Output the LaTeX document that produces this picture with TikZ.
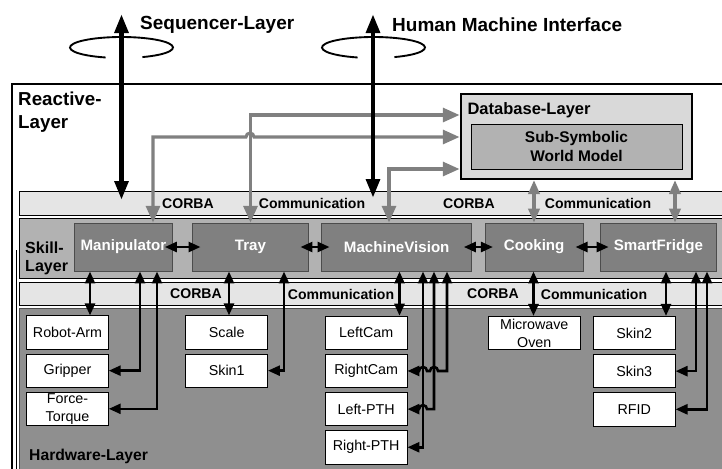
\documentclass[tikz,border=0pt]{standalone}
\usepackage{fontspec}
\setmainfont{Liberation Sans}
\usepackage{tikz}
\usetikzlibrary{arrows.meta,positioning,calc}
\usepackage{xcolor}
\definecolor{dbgray}{gray}{0.85}
\definecolor{worldgray}{gray}{0.70}
\definecolor{corbagray}{gray}{0.90}
\definecolor{skillband}{gray}{0.70}
\definecolor{skillgray}{gray}{0.50}
\definecolor{hwgray}{gray}{0.56}
\definecolor{linkgray}{gray}{0.50}
\tikzset{
    layer/.style={draw=black, line width=0.7pt},
    band/.style={layer, fill=corbagray},
    bandtext/.style={inner sep=0pt, font=\bfseries\fontsize{12}{14}\selectfont},
    layerlabel/.style={anchor=west, align=left, inner sep=0pt},
    toptext/.style={anchor=west, inner sep=0pt, font=\bfseries\fontsize{16.2}{19}\selectfont},
    skillbox/.style={draw=black!70, fill=skillgray, line width=0.8pt, minimum height=1.44cm, inner sep=0pt, text=white, font=\bfseries\fontsize{12.9}{15}\selectfont},
    hwbox/.style={draw=black, fill=white, line width=0.7pt, minimum width=2.45cm, minimum height=1.0cm, inner sep=0pt, align=center, font=\fontsize{12.2}{15.5}\selectfont},
    hwlink/.style={line width=2.2pt, black, {Triangle[length=0.36cm,width=0.3cm]}-{Triangle[length=0.36cm,width=0.3cm]}},
    glink/.style={line width=2.6pt, linkgray, {Triangle[length=0.5cm,width=0.42cm]}-{Triangle[length=0.5cm,width=0.42cm]}},
    dblink/.style={line width=2.6pt, linkgray, {Triangle[length=0.42cm,width=0.34cm]}-{Triangle[length=0.42cm,width=0.34cm]}},
    toplink/.style={line width=4pt, black, {Triangle[length=0.57cm,width=0.4cm]}-{Triangle[length=0.57cm,width=0.4cm]}},
    turn/.style={line width=1.6pt, black},
}

\begin{document}
\begin{tikzpicture}[x=0.03cm, y=-0.03cm]
    \clip (0,0) rectangle (722,468);
    % Reactive layer frame
    \draw[line width=1.7pt] (12,480) -- (12,84) -- (740,84);
    \draw[line width=0.7pt] (16.5,250) -- (16.5,480);
    \node[layerlabel, font=\bfseries\fontsize{16}{19.5}\selectfont] (reactive) at (18,112) {Reactive-\\Layer};
    % Layers
    \draw[band] (19,191.7) rectangle (740,215);
    \draw[layer, fill=skillband] (19,218.5) rectangle (740,278);
    \draw[band] (19,282.7) rectangle (740,305);
    \draw[layer, draw=black!70, fill=hwgray] (19,308) rectangle (740,480);
    \node[layerlabel, font=\bfseries\fontsize{13.7}{15.5}\selectfont] (skill) at (25,258) {Skill-\\Layer};
    \node[layerlabel, font=\bfseries\fontsize{13.4}{16}\selectfont] (hardware) at (29,456) {Hardware-Layer};
    % CORBA bands
    \node[bandtext] (corbaa) at (188,203.3) {CORBA};
    \node[bandtext] (comma) at (312,203.3) {Communication};
    \node[bandtext] (corbab) at (469,203.3) {CORBA};
    \node[bandtext] (commb) at (598,203.3) {Communication};
    \node[bandtext] (corbac) at (196,294) {CORBA};
    \node[bandtext] (commc) at (341,294) {Communication};
    \node[bandtext] (corbad) at (493,294) {CORBA};
    \node[bandtext] (commd) at (594,294) {Communication};
    % Database layer
    \node[draw=black, line width=2pt, fill=dbgray, minimum width=6.94cm, minimum height=2.54cm] (db) at (576.35,136.65) {};
    \node[layerlabel, font=\bfseries\fontsize{14.1}{16}\selectfont] (dbtitle) at (467.3,110) {Database-Layer};
    \node[draw=black, line width=0.8pt, fill=worldgray, minimum width=6.33cm, minimum height=1.35cm, align=center, font=\bfseries\fontsize{13.2}{16.5}\selectfont] (world) at (576.5,146.5) {Sub-Symbolic\\World Model};
    % Skills
    \node[skillbox, minimum width=2.96cm] (manip) at (123.4,247) {Manipulator};
    \node[skillbox, minimum width=3.47cm] (tray) at (250.5,247) {Tray};
    \node[skillbox, minimum width=4.5cm] (vision) at (396.7,247) {MachineVision};
    \node[skillbox, minimum width=2.95cm] (cooking) at (534.2,247) {Cooking};
    \node[skillbox, minimum width=3.46cm] (fridge) at (658.4,247) {SmartFridge};
    % Hardware
    \node[hwbox] (robotarm) at (67.5,332.5) {Robot-Arm};
    \node[hwbox, below=0.12cm of robotarm] (gripper) {Gripper};
    \node[hwbox, below=0.12cm of gripper] (forcetorque) {Force-\\Torque};
    \node[hwbox] (scale) at (226.7,332.5) {Scale};
    \node[hwbox, below=0.12cm of scale] (skinone) {Skin1};
    \node[hwbox] (leftcam) at (366.2,332.8) {LeftCam};
    \node[hwbox, below=0.12cm of leftcam] (rightcam) {RightCam};
    \node[hwbox, below=0.12cm of rightcam] (leftpth) {Left-PTH};
    \node[hwbox, below=0.12cm of leftpth] (rightpth) {Right-PTH};
    \node[hwbox, minimum width=2.74cm] (oven) at (534.3,333) {Microwave\\Oven};
    \node[hwbox] (skintwo) at (634.3,333) {Skin2};
    \node[hwbox, below=0.12cm of skintwo] (skinthree) {Skin3};
    \node[hwbox, below=0.12cm of skinthree] (rfid) {RFID};
    % Skill to skill
    \foreach \a/\b in {manip/tray, tray/vision, vision/cooking, cooking/fridge}
        \draw[hwlink, shorten <=-0.25cm, shorten >=-0.25cm] (\a.east) -- (\b.west);
    % Skill to hardware
    \draw[hwlink] (manip.south -| 90,0) -- (robotarm.north -| 90,0);
    \draw[hwlink] (manip.south -| 140,0) |- (gripper.east);
    \draw[hwlink] (manip.south -| 157,0) |- (forcetorque.east);
    \draw[hwlink] (tray.south -| 229,0) -- (scale.north -| 229,0);
    \draw[hwlink] (tray.south -| 284,0) |- (skinone.east);
    \draw[hwlink] (vision.south -| 399.5,0) -- (leftcam.north -| 399.5,0);
    \draw[hwlink] (vision.south -| 447,0) -- (rightcam.east -| 447,0) -- (rightcam.east -| 438,0)
        arc[start angle=0, end angle=180, radius=0.12cm] -- (rightcam.east -| 427,0)
        arc[start angle=0, end angle=180, radius=0.12cm] -- (rightcam.east);
    \draw[hwlink] (vision.south -| 434,0) -- (leftpth.east -| 434,0) -- (leftpth.east -| 427,0)
        arc[start angle=0, end angle=180, radius=0.12cm] -- (leftpth.east);
    \draw[hwlink] (vision.south -| 423,0) |- (rightpth.east);
    \draw[hwlink] (cooking.south -| 533.5,0) -- (oven.north -| 533.5,0);
    \draw[hwlink] (fridge.south -| 666,0) -- (skintwo.north -| 666,0);
    \draw[hwlink] (fridge.south -| 696,0) |- (skinthree.east);
    \draw[hwlink] (fridge.south -| 707,0) |- (rfid.east);
    % Skill to database
    \draw[glink] (tray.north) |- (db.west |- 0,115);
    \draw[glink] (manip.north -| 153,0) -- (153,137) -- (246,137)
        arc[start angle=180, end angle=0, radius=0.12cm] -- (db.west |- 0,137);
    \draw[glink] (vision.north -| 389,0) |- (db.west |- 0,169);
    \draw[dblink] (db.south -| 534,0) -- (cooking.north -| 534,0);
    \draw[dblink] (db.south -| 675,0) -- (fridge.north -| 675,0);
    % Upper interfaces
    \coordinate (seqc) at (121.5,47.5);
    \coordinate (hmic) at (373.5,47.5);
    \foreach \c in {seqc, hmic}
        \draw[turn] ([shift={(294:1.545cm and 0.315cm)}]\c)
            arc[start angle=294, end angle=612, x radius=1.545cm, y radius=0.315cm];
    \coordinate (seqtop) at (121.5,14);
    \coordinate (seqend) at (121.5,200);
    \coordinate (hmitop) at (373,14);
    \coordinate (hmiend) at (373,198);
    \draw[toplink] (seqtop) -- (seqend);
    \draw[toplink] (hmitop) -- (hmiend);
    \node[toptext] (seqlabel) at (140,25) {Sequencer-Layer};
    \node[toptext] (hmilabel) at (392,25) {Human Machine Interface};
\end{tikzpicture}
\end{document}
